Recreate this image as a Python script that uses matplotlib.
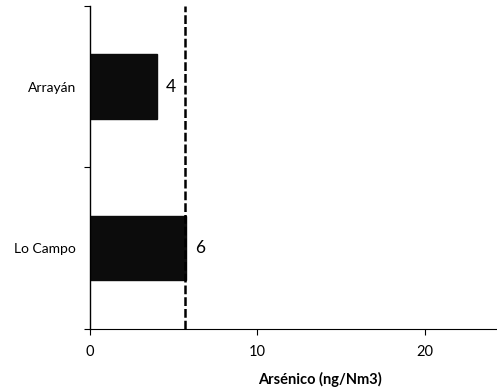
import matplotlib.pyplot as plt

categories = ["Lo Campo", "Arrayán"]
values = [5.75, 4.0]
value_labels = ["6", "4"]
limit = 5.7
x_ticks = [0, 10, 20]

plt.rcParams['font.family'] = ['Lato', 'DejaVu Sans']

fig = plt.figure(figsize=(4.97, 3.91), dpi=100)
ax = fig.add_axes([0.181, 0.159, 0.819, 0.826])

ypos = range(len(categories))
ax.barh(ypos, values, height=0.4, color="#0c0c0c", edgecolor="#0c0c0c")
for y, v, lab in zip(ypos, values, value_labels):
    ax.text(v + 0.5, y, lab, va="center", ha="left", fontsize=12.5)

ax.axvline(limit, color="black", linestyle=(0, (3.5, 1.2)), linewidth=1.8)

ax.set_xlim(0, 24.3)
ax.set_ylim(-0.5, 1.5)
ax.set_xticks(x_ticks)
ax.set_xticklabels([str(t) for t in x_ticks], fontsize=10.5)
ax.set_yticks(list(ypos))
ax.set_yticklabels(categories, fontsize=10)
ax.tick_params(axis="y", which="major", length=0, pad=10)
ax.set_yticks([-0.5, 0.5, 1.5], minor=True)
ax.tick_params(axis="y", which="minor", length=4, width=0.8)
ax.tick_params(axis="x", length=4, width=0.8, pad=8)
ax.set_xlabel("Arsénico (ng/Nm3)", fontsize=10.5, fontweight="bold")
ax.xaxis.set_label_coords(0.565, -0.135)

for s in ["top", "right"]:
    ax.spines[s].set_visible(False)
ax.spines["left"].set_linewidth(1)
ax.spines["bottom"].set_linewidth(0.8)

fig.savefig("out.png", dpi=100)
